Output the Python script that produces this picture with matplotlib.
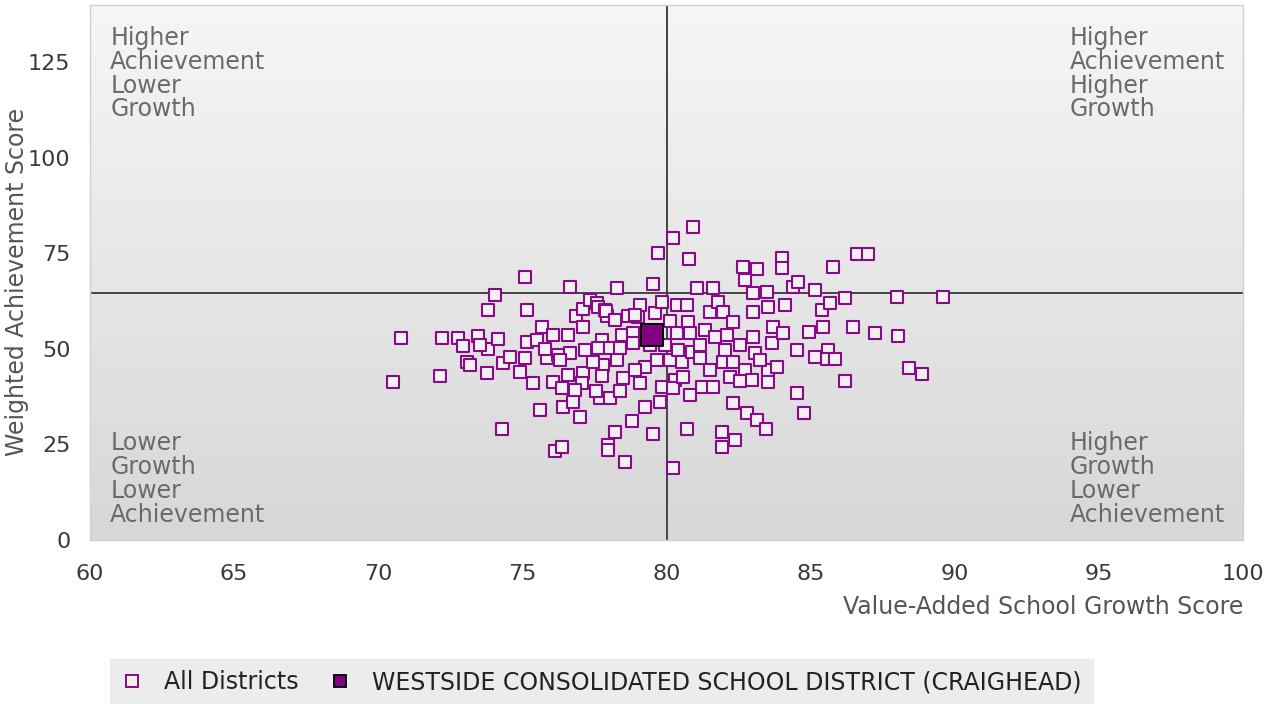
import numpy as np
import matplotlib
matplotlib.use('Agg')
import matplotlib.pyplot as plt
from matplotlib.colors import LinearSegmentedColormap
from matplotlib.lines import Line2D


# --------------------------------------------------------------------------------------------------

# Value-added growth score (x) and weighted achievement score (y) for all districts
growth = [70.51, 70.79, 72.14, 72.21, 72.76, 72.94, 73.08, 73.18, 73.46, 73.81,
          74.05, 73.77, 73.81, 74.15, 73.53, 74.29, 74.33, 74.57, 74.92, 75.09,
          75.16, 75.09, 75.16, 75.37, 75.51, 75.61, 75.68, 75.96, 76.06, 75.85,
          76.06, 76.13, 76.37, 76.37, 76.41, 76.58, 76.58, 76.65, 76.23, 76.65,
          76.75, 77.00, 76.86, 77.10, 77.34, 77.59, 77.10, 77.10, 77.07, 77.62,
          77.86, 77.93, 77.76, 77.62, 78.04, 77.79, 77.76, 77.69, 78.04, 78.28,
          78.28, 78.45, 78.38, 78.49, 78.21, 77.97, 77.97, 78.56, 78.80, 78.66,
          79.01, 79.08, 78.90, 78.84, 78.84, 79.25, 78.90, 79.25, 79.53, 79.70,
          79.60, 79.53, 79.77, 79.67, 79.84, 79.84, 80.12, 80.12, 80.22, 80.22,
          80.29, 80.22, 80.36, 80.36, 80.40, 80.53, 80.57, 80.71, 80.74, 80.81,
          80.78, 80.92, 80.71, 80.88, 81.16, 81.05, 81.23, 81.33, 81.51, 81.61,
          81.61, 81.68, 81.78, 81.92, 81.92, 81.96, 82.03, 81.96, 82.10, 82.30,
          82.30, 82.20, 82.30, 82.37, 82.65, 82.72, 82.72, 82.79, 82.96, 83.00,
          83.00, 83.00, 83.07, 83.13, 83.13, 83.52, 83.52, 83.52, 83.45, 83.48,
          83.66, 83.69, 83.83, 84.00, 84.00, 84.04, 84.11, 84.38, 84.56, 84.52,
          84.52, 84.77, 84.94, 85.15, 85.15, 85.39, 85.42, 85.60, 85.56, 85.67,
          85.77, 85.84, 86.19, 86.19, 86.46, 86.60, 87.00, 87.23, 87.99, 88.03,
          88.41, 88.86, 89.59, 77.17, 77.45, 77.55, 79.08, 76.30, 75.78, 77.90,
          78.38, 81.16, 82.55, 83.24, 79.43, 79.95, 80.81, 81.50, 82.55, 76.82,
          78.21]

achievement = [41.4, 52.9, 43.0, 52.9, 52.9, 50.8, 46.6, 45.8, 53.5, 60.3,
               64.2, 43.8, 50.1, 52.7, 51.1, 29.1, 46.4, 48.0, 44.0, 68.7,
               60.3, 47.7, 51.9, 41.1, 52.4, 34.1, 55.8, 48.5, 53.7, 47.7,
               41.4, 23.3, 24.4, 39.8, 34.9, 43.2, 53.7, 66.3, 48.5, 49.0,
               36.2, 32.2, 58.7, 60.5, 62.9, 62.1, 55.8, 43.8, 41.1, 61.1,
               60.3, 58.7, 52.4, 50.3, 50.3, 45.8, 42.9, 37.2, 37.2, 66.0,
               47.2, 53.7, 50.3, 42.4, 28.3, 24.9, 23.6, 20.4, 31.2, 58.7,
               58.4, 61.6, 59.0, 54.2, 51.6, 45.3, 44.6, 34.9, 67.1, 75.2,
               59.5, 27.8, 36.2, 47.2, 40.1, 62.4, 57.4, 47.2, 78.9, 18.9,
               41.9, 39.8, 61.6, 54.2, 49.8, 46.6, 42.7, 61.6, 57.1, 54.2,
               73.6, 82.0, 29.1, 49.3, 47.7, 66.0, 40.1, 55.0, 59.7, 66.0,
               40.1, 53.2, 62.4, 28.3, 24.4, 59.7, 49.8, 46.6, 53.7, 57.1,
               46.6, 42.7, 35.9, 26.2, 71.5, 68.1, 44.6, 33.3, 41.9, 64.7,
               59.7, 53.2, 49.0, 70.8, 31.4, 61.1, 44.6, 41.4, 29.1, 65.0,
               51.6, 55.8, 45.3, 73.9, 71.3, 54.2, 61.6, 66.3, 67.6, 49.8,
               38.5, 33.3, 54.5, 65.5, 48.0, 60.3, 55.8, 49.8, 47.4, 62.1,
               71.5, 47.4, 63.2, 41.7, 55.8, 74.9, 74.9, 54.2, 63.7, 53.5,
               45.1, 43.5, 63.7, 49.8, 46.6, 39.0, 41.1, 47.2, 50.1, 59.9,
               39.0, 51.1, 51.1, 47.2, 51.1, 51.1, 38.0, 44.6, 41.7, 39.3,
               57.7]

# Highlighted district
district_name = 'WESTSIDE CONSOLIDATED SCHOOL DISTRICT (CRAIGHEAD)'
district_growth = [79.5]
district_achievement = [53.7]

# Quadrant split values
growth_split = 80.0
achievement_split = 64.7

x_ticks = [60, 65, 70, 75, 80, 85, 90, 95, 100]
y_ticks = [0, 25, 50, 75, 100, 125]

quadrant_labels = {
    'top_left': 'Higher\nAchievement\nLower\nGrowth',
    'top_right': 'Higher\nAchievement\nHigher\nGrowth',
    'bottom_left': 'Lower\nGrowth\nLower\nAchievement',
    'bottom_right': 'Higher\nGrowth\nLower\nAchievement',
}


# --------------------------------------------------------------------------------------------------

purple = '#880a88'
fs = 17
plt.rcParams['font.family'] = ['DejaVu Sans']

# Create figure
# -------------
fig = plt.figure(figsize=(12.72, 7.04), dpi=100)
ax = fig.add_axes([90/1272, 1 - 540/704, 1153/1272, 535/704])

# Gradient background for the plot area
# -------------------------------------
cmap = LinearSegmentedColormap.from_list('bg', ['#d7d7d7', '#f6f6f6'])
grad = np.linspace(0, 1, 256)[:, None]
ax.imshow(grad, extent=[60, 100, 0, 140], origin='lower', aspect='auto', cmap=cmap, zorder=0)

# Points
# ------
ax.scatter(growth, achievement, s=78, marker='s', facecolor='#f1f1f1', edgecolor=purple,
           linewidth=1.5, zorder=3)
ax.scatter(district_growth, district_achievement, s=250, marker='s', facecolor='#800080',
           edgecolor='black', linewidth=1.4, zorder=4)

# Quadrant lines
# --------------
ax.axvline(growth_split, color='#444444', linewidth=1.4, zorder=2)
ax.axhline(achievement_split, color='#444444', linewidth=1.4, zorder=2)

# Quadrant labels
# ---------------
txt = dict(fontsize=fs, color='#6a6a6a', linespacing=0.99, zorder=5)
ax.text(60.7, 134.5, quadrant_labels['top_left'], ha='left', va='top', **txt)
ax.text(94.0, 134.5, quadrant_labels['top_right'], ha='left', va='top', **txt)
ax.text(60.7, 3.5, quadrant_labels['bottom_left'], ha='left', va='bottom', **txt)
ax.text(94.0, 3.5, quadrant_labels['bottom_right'], ha='left', va='bottom', **txt)

# Figure labeling
# ---------------
ax.set_xlim(60, 100)
ax.set_ylim(0, 140)
ax.set_xticks(x_ticks)
ax.set_yticks(y_ticks)
ax.tick_params(length=0, labelsize=16, labelcolor='#3a3a3a')
ax.tick_params(axis='x', pad=17)
ax.tick_params(axis='y', pad=14)
for s in ax.spines.values():
    s.set_color('#d0d0d0')
    s.set_linewidth(1.0)

ax.set_xlabel('Value-Added School Growth Score', fontsize=fs, color='#555555', loc='right',
              labelpad=8)
ax.set_ylabel('Weighted Achievement Score', fontsize=fs, color='#555555')
ax.yaxis.set_label_coords(-0.053, 0.483)

# Legend
# ------
handles = [Line2D([], [], linestyle='none', marker='s', markersize=8.5, markerfacecolor='#f1f1f1',
                  markeredgecolor=purple, markeredgewidth=1.4),
           Line2D([], [], linestyle='none', marker='s', markersize=8.5, markerfacecolor='#800080',
                  markeredgecolor='black', markeredgewidth=1.3)]
leg = fig.legend(handles, ['All Districts', district_name], loc='lower left',
                 bbox_to_anchor=(98/1272, -0.02), ncol=2, fontsize=fs, frameon=True,
                 fancybox=False, facecolor='#ececec', edgecolor='#ececec', framealpha=1,
                 borderpad=0.5, handletextpad=0.9, columnspacing=1.3, handlelength=0.9)
for t in leg.get_texts():
    t.set_color('#222222')

# Save figure
# -----------
fig.savefig('out.png', dpi=100)
plt.close('all')
